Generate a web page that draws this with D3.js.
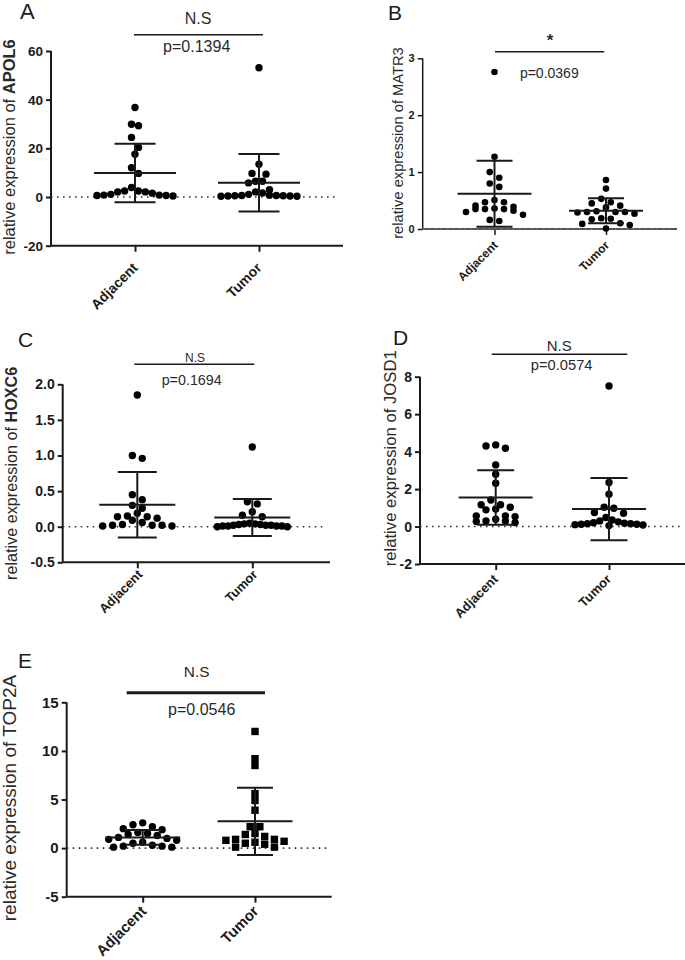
<!DOCTYPE html>
<html><head><meta charset="utf-8">
<script src="https://cdn.jsdelivr.net/npm/d3@7"></script>
<style>html,body{margin:0;padding:0;background:#fff;}svg{display:block;font-family:"Liberation Sans",Arial,sans-serif;}</style>
</head><body>
<svg id="chart" width="685" height="960"></svg>
<script>
// ---------------- DATA ----------------
const categories = ["Adjacent", "Tumor"];
const panelLetters = ["A", "B", "C", "D", "E"];
const genes = ["APOL6", "MATR3", "HOXC6", "JOSD1", "TOP2A"];
const sigLabels = ["N.S", "*", "N.S", "N.S", "N.S"];
const pLabels = ["p=0.1394", "p=0.0369", "p=0.1694", "p=0.0574", "p=0.0546"];

const apol6Adjacent = [36.8, 29.9, 29.3, 24.5, 20.4, 17.6, 12.0, 9.7, 3.9, 2.5, 2.5, 2.1, 2.1, 1.6, 1.1, 0.8, 0.8, 0.6, 0.6, 0.4];
const apol6Tumor    = [53.1, 13.5, 9.7, 9.4, 6.5, 6.5, 5.8, 3.0, 2.1, 1.7, 1.1, 0.7, 0.6, 0.6, 0.5, 0.5, 0.4, 0.4, 0.3, 0.3];
const matr3Adjacent = [2.76, 1.27, 1.00, 0.90, 0.80, 0.74, 0.51, 0.47, 0.47, 0.41, 0.39, 0.36, 0.35, 0.35, 0.35, 0.32, 0.30, 0.25, 0.16, 0.14];
const matr3Tumor    = [0.86, 0.71, 0.53, 0.47, 0.45, 0.41, 0.38, 0.31, 0.30, 0.30, 0.30, 0.29, 0.27, 0.19, 0.18, 0.17, 0.10, 0.09, 0.07, 0.01];
const hoxc6Adjacent = [1.85, 1.00, 0.96, 0.45, 0.38, 0.30, 0.26, 0.19, 0.15, 0.14, 0.14, 0.12, 0.09, 0.06, 0.03, 0.02, 0.02, 0.02, 0.01, 0.01];
const hoxc6Tumor    = [1.12, 0.35, 0.32, 0.21, 0.16, 0.14, 0.05, 0.04, 0.04, 0.03, 0.03, 0.02, 0.02, 0.02, 0.01, 0.01, 0.01, 0.01, 0.00, 0.00];
const josd1Adjacent = [4.36, 4.30, 4.18, 3.29, 2.79, 2.31, 1.42, 1.16, 1.16, 1.03, 0.94, 0.89, 0.57, 0.57, 0.53, 0.39, 0.30, 0.30, 0.27, 0.21];
const josd1Tumor    = [7.50, 2.35, 1.73, 1.03, 0.98, 0.75, 0.71, 0.48, 0.35, 0.30, 0.25, 0.20, 0.18, 0.15, 0.15, 0.12, 0.12, 0.10, 0.08, 0.05];
const top2aAdjacent = [2.6, 2.4, 2.2, 2.0, 1.9, 1.6, 1.5, 1.4, 1.3, 1.1, 1.0, 0.9, 0.8, 0.6, 0.5, 0.3, 0.2, 0.2, 0.1, 0.1];
const top2aTumor    = [12.0, 9.2, 8.5, 5.6, 4.9, 3.9, 2.2, 2.2, 1.5, 1.4, 1.2, 0.9, 0.9, 0.8, 0.7, 0.6, 0.5, 0.4, 0.1, 0.1];

const groupMeans = [[9.9, 5.9], [0.62, 0.32], [0.31, 0.13], [1.55, 0.93], [1.1, 2.75]];
const groupSDs   = [[12.0, 11.8], [0.58, 0.22], [0.46, 0.26], [1.45, 1.66], [0.75, 3.45]];

const yTicksA = [-20, 0, 20, 40, 60];
const yTicksB = [0, 1, 2, 3];
const yTicksC = [-0.5, 0.0, 0.5, 1.0, 1.5, 2.0];
const yTicksD = [-2, 0, 2, 4, 6, 8];
const yTicksE = [-5, 0, 5, 10, 15];

const seriesData = [
  [apol6Adjacent, apol6Tumor],
  [matr3Adjacent, matr3Tumor],
  [hoxc6Adjacent, hoxc6Tumor],
  [josd1Adjacent, josd1Tumor],
  [top2aAdjacent, top2aTumor]
];
const tickSets = [yTicksA, yTicksB, yTicksC, yTicksD, yTicksE];
const tickFormats = ["d", "d", ".1f", "d", "d"];

// ---------------- LAYOUT ----------------
const layout = [
  {axisX:51, yTop:51, yBot:245.7, xRight:343, cat:[135,259], letter:{x:20,y:18.5,s:22},
   sig:{x:198,y:24,s:16}, p:{x:196.7,y:51.7,s:16}, bar:{y:34.7,x1:134,x2:263,w:1.6},
   tickS:13.5, xlabS:14, xlab:{dx:3.5,dy:23}, ylab:{x:9.5,y:147,s:16.5,bold:true},
   r:3.7, d:7, binH:10, gapH:99, meanHalf:41, capHalf:20.5, axisW:2, shapes:["c","c"]},
  {axisX:422.7, yTop:58.3, yBot:229, xRight:677, cat:[494.5,606], letter:{x:388,y:20,s:21},
   sig:{x:550,y:46,s:17}, p:{x:549.3,y:78.3,s:14}, bar:{y:51.7,x1:495,x2:604.3,w:1.6},
   tickS:11, xlabS:12, xlab:{dx:4,dy:17}, ylab:{x:398,y:143,s:14.7,bold:false},
   r:3.3, d:9.5, binH:8, gapH:99, meanHalf:37, capHalf:18, axisW:1.5, shapes:["c","c"]},
  {axisX:62.7, yTop:384.3, yBot:562.3, xRight:330, cat:[137.3,252.3], letter:{x:18,y:346.7,s:21},
   sig:{x:195,y:361.7,s:12}, p:{x:191.7,y:385,s:14.3}, bar:{y:364.3,x1:134.3,x2:254.3,w:1.6},
   tickS:14, xlabS:13, xlab:{dx:6,dy:13}, ylab:{x:11.5,y:473.3,s:16.2,bold:true},
   r:3.7, d:9.9, binH:6, gapH:99, meanHalf:38, capHalf:19.5, axisW:2, shapes:["c","c"]},
  {axisX:420, yTop:376.7, yBot:564, xRight:685, cat:[495.7,609], letter:{x:393,y:345,s:21},
   sig:{x:559.3,y:350.7,s:15}, p:{x:561.7,y:370,s:14.7}, bar:{y:354.3,x1:491.7,x2:627.3,w:1.6},
   tickS:14, xlabS:13, xlab:{dx:3,dy:16}, ylab:{x:390.5,y:458.3,s:16.7,bold:false},
   r:3.7, d:9.7, binH:8, gapH:99, meanHalf:37, capHalf:18.5, axisW:2, shapes:["c","c"]},
  {axisX:66.7, yTop:702.3, yBot:896.7, xRight:331.7, cat:[142.7,255], letter:{x:18,y:668,s:21},
   sig:{x:196.7,y:677.3,s:15.4}, p:{x:201.7,y:715,s:16}, bar:{y:692.7,x1:126.7,x2:265,w:3},
   tickS:15, xlabS:15, xlab:{dx:4.5,dy:15.5}, ylab:{x:9,y:798,s:19,bold:false},
   r:3.7, d:9.7, binH:8, gapH:5, meanHalf:37.5, capHalf:18, axisW:2, shapes:["c","s"]}
];

const ink = "#1a1a1a";
const svg = d3.select("#chart");

// row-based scatter layout (GraphPad-like)
function rowLayout(values, y, binH, gapH, d, maxW) {
  const pts = values.map(v => ({v, y: y(v)})).sort((a, b) => a.y - b.y);
  const rows = [];
  let cur = null, prev = null;
  for (const p of pts) {
    if (cur && p.y - cur[0].y < binH && p.y - prev.y < gapH) cur.push(p);
    else { cur = [p]; rows.push(cur); }
    prev = p;
  }
  for (const row of rows) {
    const n = row.length;
    const step = n > 1 ? Math.min(d, maxW / (n - 1)) : 0;
    const offs = d3.range(n).map(j => (j - (n - 1) / 2) * step)
      .sort((a, b) => (Math.abs(a) - Math.abs(b)) || (a - b));
    row.forEach((p, j) => { p.x = offs[j]; });
  }
  return pts;
}

layout.forEach((L, i) => {
  const g = svg.append("g");
  const ticks = tickSets[i];
  const y = d3.scaleLinear().domain([ticks[0], ticks[ticks.length - 1]]).range([L.yBot, L.yTop]);
  const x = d3.scalePoint().domain(categories).range(L.cat);
  const fmt = d3.format(tickFormats[i]);

  g.append("text").attr("x", L.letter.x).attr("y", L.letter.y).attr("font-size", L.letter.s)
    .attr("fill", ink).text(panelLetters[i]);

  const yAxis = d3.axisLeft(y).tickValues(ticks).tickFormat(v => fmt(v).replace("\u2212", "-")).tickSize(5).tickPadding(3);
  const ya = g.append("g").attr("transform", `translate(${L.axisX},0)`).call(yAxis);
  ya.select(".domain").attr("stroke", ink).attr("stroke-width", L.axisW).attr("d", `M0,${L.yBot}V${L.yTop}`);
  ya.selectAll(".tick line").attr("stroke", ink).attr("stroke-width", L.axisW);
  ya.selectAll(".tick text").attr("font-size", L.tickS).attr("font-weight", "bold")
    .attr("font-family", "Liberation Sans, Arial, sans-serif").attr("fill", ink);

  const xAxis = d3.axisBottom(x).tickSize(6).tickFormat("");
  const xa = g.append("g").attr("transform", `translate(0,${L.yBot})`).call(xAxis);
  xa.select(".domain").attr("stroke", ink).attr("stroke-width", L.axisW).attr("d", `M${L.axisX},0H${L.xRight}`);
  xa.selectAll(".tick line").attr("stroke", ink).attr("stroke-width", L.axisW);
  categories.forEach(c => {
    g.append("text")
      .attr("transform", `translate(${x(c) + L.xlab.dx},${L.yBot + L.xlab.dy}) rotate(-45)`)
      .attr("text-anchor", "end")
      .attr("font-size", L.xlabS).attr("font-weight", "bold").attr("fill", ink).text(c);
  });

  const yl = g.append("text")
    .attr("transform", `translate(${L.ylab.x},${L.ylab.y}) rotate(-90)`)
    .attr("text-anchor", "middle").attr("dy", "0.35em")
    .attr("font-size", L.ylab.s).attr("fill", "#2a2a2a");
  yl.append("tspan").text("relative expression of ");
  yl.append("tspan").attr("font-weight", L.ylab.bold ? "bold" : "normal").text(genes[i]);

  g.append("line").attr("x1", L.axisX).attr("x2", L.xRight - 4).attr("y1", y(0)).attr("y2", y(0))
    .attr("stroke", i === 1 ? "#777" : "#333").attr("stroke-width", 1.6).attr("stroke-dasharray", "1.6,4.4");

  categories.forEach((c, k) => {
    const pts = rowLayout(seriesData[i][k], y, L.binH, L.gapH, L.d, 2 * L.meanHalf - 6);
    const cx = x(c);
    if (L.shapes[k] === "s") {
      const s = L.r * 2;
      g.selectAll(null).data(pts).enter().append("rect")
        .attr("x", d => cx + d.x - s / 2).attr("y", d => d.y - s / 2).attr("width", s).attr("height", s)
        .attr("fill", "#000");
    } else {
      g.selectAll(null).data(pts).enter().append("circle")
        .attr("cx", d => cx + d.x).attr("cy", d => d.y).attr("r", L.r).attr("fill", "#000");
    }
    const m = groupMeans[i][k], sd = groupSDs[i][k];
    const lw = 2;
    g.append("line").attr("x1", cx).attr("x2", cx).attr("y1", y(m - sd)).attr("y2", y(m + sd)).attr("stroke", ink).attr("stroke-width", lw);
    g.append("line").attr("x1", cx - L.meanHalf).attr("x2", cx + L.meanHalf).attr("y1", y(m)).attr("y2", y(m)).attr("stroke", ink).attr("stroke-width", lw);
    [m - sd, m + sd].forEach(v => {
      g.append("line").attr("x1", cx - L.capHalf).attr("x2", cx + L.capHalf).attr("y1", y(v)).attr("y2", y(v)).attr("stroke", ink).attr("stroke-width", lw);
    });
  });

  g.append("line").attr("x1", L.bar.x1).attr("x2", L.bar.x2).attr("y1", L.bar.y).attr("y2", L.bar.y)
    .attr("stroke", ink).attr("stroke-width", L.bar.w);
  g.append("text").attr("x", L.sig.x).attr("y", L.sig.y).attr("text-anchor", "middle")
    .attr("font-size", L.sig.s).attr("fill", "#2a2a2a").attr("font-weight", i === 1 ? "bold" : "normal").text(sigLabels[i]);
  g.append("text").attr("x", L.p.x).attr("y", L.p.y).attr("text-anchor", "middle")
    .attr("font-size", L.p.s).attr("fill", "#2a2a2a").text(pLabels[i]);
});
</script>
</body></html>
